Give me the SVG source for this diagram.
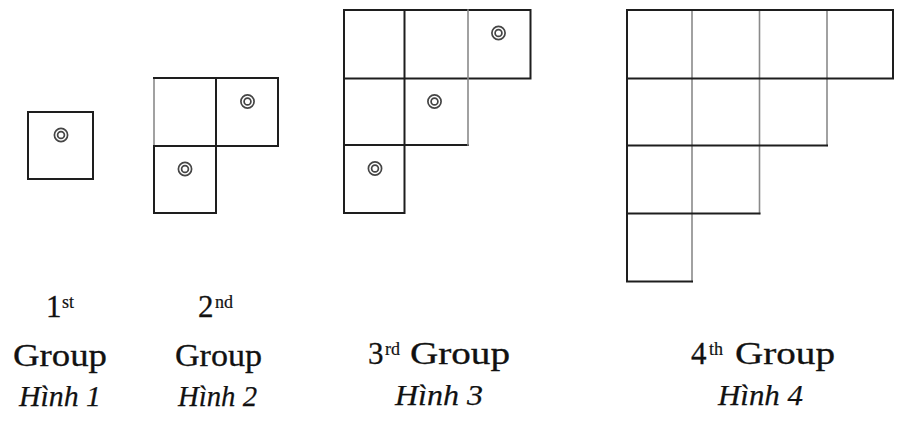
<svg xmlns="http://www.w3.org/2000/svg" width="904" height="422" viewBox="0 0 904 422">
<defs>
<style>
.dk{fill:none;stroke:#1e1e1e;stroke-width:2;stroke-linecap:square}
.gy{fill:none;stroke:#8a8a8a;stroke-width:1.6;stroke-linecap:square}
.ring{fill:none;stroke:#454545;stroke-width:1.7}
.t{font-family:"Liberation Serif","Times New Roman",serif;fill:#111111;stroke:#111111;stroke-width:0.3;font-size:31px}
.it{font-family:"Liberation Serif","Times New Roman",serif;fill:#111111;stroke:#111111;stroke-width:0.25;font-size:30px;font-style:italic}
.sup{font-size:18px;stroke-width:0.2}
</style>
<g id="mark">
<circle class="ring" cx="0" cy="0" r="6.6"/>
<circle class="ring" cx="0" cy="0" r="3.4"/>
</g>
</defs>
<rect width="904" height="422" fill="#ffffff"/>

<g id="fig1">
<rect class="dk" x="28" y="112" width="65" height="67"/>
<use href="#mark" x="61" y="135"/>
</g>

<g id="fig2">
<path class="gy" d="M154 78 V213"/>
<path class="dk" d="M154 78 H278 V146 H154 M216 78 V213 H154 M154 146 V213"/>
<use href="#mark" x="247.5" y="101.5"/>
<use href="#mark" x="185" y="169"/>
</g>

<g id="fig3">
<path class="dk" d="M344 10 H530.5 V78.5 H344 Z M344 78.5 V213 H404.5 V10 M344 145 H468"/>
<path class="gy" d="M468 10 V145"/>
<use href="#mark" x="498.5" y="33"/>
<use href="#mark" x="434.5" y="101.5"/>
<use href="#mark" x="375" y="168.5"/>
</g>

<g id="fig4">
<path class="gy" d="M692 10 V281.5 M759.5 10 V213.5 M827 10 V145.5"/>
<path class="dk" d="M627 10 H893 V78.5 H627 Z M627 78.5 V281.5 H692 M627 145.5 H827 M627 213.5 H759.5"/>
</g>

<g id="labels">
<text class="t" y="317"><tspan x="46">1</tspan><tspan class="sup" x="62" dy="-9">st</tspan></text>
<text class="t" x="13" y="366" textLength="94" lengthAdjust="spacingAndGlyphs">Group</text>
<text class="it" x="19" y="406" textLength="82" lengthAdjust="spacingAndGlyphs">Hình 1</text>

<text class="t" y="317"><tspan x="198">2</tspan><tspan class="sup" x="215" dy="-9">nd</tspan></text>
<text class="t" x="175" y="366" textLength="87" lengthAdjust="spacingAndGlyphs">Group</text>
<text class="it" x="178" y="406" textLength="79" lengthAdjust="spacingAndGlyphs">Hình 2</text>

<text class="t" y="364"><tspan x="368">3</tspan><tspan class="sup" x="385" dy="-9">rd</tspan><tspan x="410" dy="9" textLength="100" lengthAdjust="spacingAndGlyphs">Group</tspan></text>
<text class="it" x="395" y="405" textLength="88" lengthAdjust="spacingAndGlyphs">Hình 3</text>

<text class="t" y="364"><tspan x="691">4</tspan><tspan class="sup" x="709" dy="-9">th</tspan><tspan x="735" dy="9" textLength="100" lengthAdjust="spacingAndGlyphs">Group</tspan></text>
<text class="it" x="718" y="405" textLength="85" lengthAdjust="spacingAndGlyphs">Hình 4</text>
</g>
</svg>
